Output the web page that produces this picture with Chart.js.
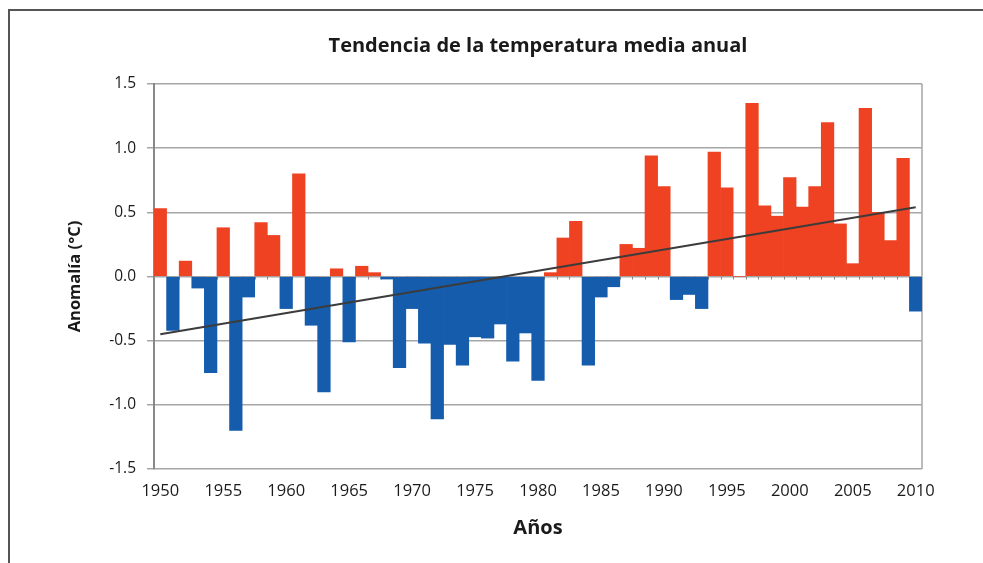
<!DOCTYPE html>
<html lang="es">
<head>
<meta charset="UTF-8">
<title>Tendencia de la temperatura media anual</title>
<style>
    html, body { margin: 0; padding: 0; background: #fff; }
    #wrap { position: relative; width: 983px; height: 563px; overflow: hidden; }
    #frame {
        position: absolute; left: 8px; top: 9px; right: -10px; bottom: -10px;
        border-left: 2px solid #555; border-top: 2px solid #555;
    }
    #chart { position: absolute; left: 0; top: 0; }
</style>
</head>
<body>
<div id="wrap">
    <div id="frame"></div>
    <canvas id="chart" width="983" height="563"></canvas>
</div>
<script src="https://cdn.jsdelivr.net/npm/chart.js"></script>
<script>
    // years 1950..2010
    var years = [];
    for (var y = 1950; y <= 2010; y++) years.push(String(y));

    // annual anomaly (ºC)
    var anomalies = [
        0.53, -0.42, 0.12, -0.09, -0.75, 0.38, -1.20, -0.16, 0.42, 0.32,   // 1950-59
        -0.25, 0.80, -0.38, -0.90, 0.06, -0.51, 0.08, 0.03, -0.02, -0.71,  // 1960-69
        -0.25, -0.52, -1.11, -0.53, -0.69, -0.47, -0.48, -0.37, -0.66, -0.44, // 1970-79
        -0.81, 0.03, 0.30, 0.43, -0.69, -0.16, -0.08, 0.25, 0.22, 0.94,    // 1980-89
        0.70, -0.18, -0.14, -0.25, 0.97, 0.69, 0.00, 1.35, 0.55, 0.47,     // 1990-99
        0.77, 0.54, 0.70, 1.20, 0.41, 0.10, 1.31, 0.50, 0.28, 0.92,        // 2000-09
        -0.27                                                              // 2010
    ];

    // linear trend, value at first and last year
    var trendEnds = [-0.45, 0.54];

    var yTicks = [1.5, 1.0, 0.5, 0.0, -0.5, -1.0, -1.5];

    var RED = '#ee4222';
    var BLUE = '#155cac';
    var FONT = '"Open Sans", "Noto Sans", sans-serif';

    var trendData = years.map(function (d, i) {
        if (i === 0) return trendEnds[0];
        if (i === years.length - 1) return trendEnds[1];
        return null;
    });

    // right border of the plot + little tick marks along the zero line
    var plotExtras = {
        id: 'plotExtras',
        beforeDatasetsDraw: function (chart) {
            var ctx = chart.ctx, a = chart.chartArea;
            var ys = chart.scales.y;
            var y0 = ys.getPixelForValue(0);
            var step = (a.right - a.left) / years.length;
            ctx.save();
            ctx.strokeStyle = '#888';
            ctx.lineWidth = 1;
            for (var i = 1; i < years.length; i++) {
                var x = Math.round(a.left + step * i) + 0.5;
                ctx.beginPath();
                ctx.moveTo(x, y0);
                ctx.lineTo(x, y0 + 3);
                ctx.stroke();
            }
            ctx.strokeStyle = '#a6a6a6';
            ctx.lineWidth = 1.5;
            ctx.beginPath();
            ctx.moveTo(a.right, a.top);
            ctx.lineTo(a.right, a.bottom);
            ctx.stroke();
            ctx.restore();
        }
    };

    new Chart(document.getElementById('chart').getContext('2d'), {
        data: {
            labels: years,
            datasets: [{
                type: 'line',
                data: trendData,
                spanGaps: true,
                borderColor: '#3c3c3c',
                borderWidth: 2,
                pointRadius: 0,
                order: 0
            }, {
                type: 'bar',
                data: anomalies,
                backgroundColor: anomalies.map(function (v) { return v >= 0 ? RED : BLUE; }),
                barPercentage: 1,
                categoryPercentage: 1,
                order: 1
            }]
        },
        options: {
            responsive: false,
            animation: false,
            layout: { padding: { left: 10, right: 61, top: 0, bottom: 0 } },
            plugins: {
                legend: { display: false },
                tooltip: { enabled: false },
                title: {
                    display: true,
                    text: 'Tendencia de la temperatura media anual',
                    fullSize: false,
                    color: '#1a1a1a',
                    font: { family: FONT, size: 20, weight: 'bold', lineHeight: 1.2 },
                    padding: { top: 34, bottom: 26 }
                }
            },
            scales: {
                x: {
                    grid: { display: false, drawTicks: false },
                    border: { display: false },
                    ticks: {
                        autoSkip: false,
                        maxRotation: 0,
                        padding: 12,
                        color: '#1a1a1a',
                        font: { family: FONT, size: 16.5 },
                        callback: function (v, i) {
                            return (1950 + i) % 5 === 0 ? years[i] : '';
                        }
                    },
                    title: {
                        display: true,
                        text: 'Años',
                        color: '#1a1a1a',
                        font: { family: FONT, size: 20, weight: 'bold', lineHeight: 1.2 },
                        padding: { top: 0, bottom: 23 }
                    },
                    afterFit: function (s) { s.height = 94; }
                },
                y: {
                    min: -1.5,
                    max: 1.5,
                    afterBuildTicks: function (s) {
                        s.ticks = yTicks.map(function (v) { return { value: v }; });
                    },
                    grid: { color: '#a6a6a6', lineWidth: 1.5, tickLength: 7 },
                    border: { color: '#888', width: 2 },
                    ticks: {
                        padding: 11,
                        color: '#1a1a1a',
                        font: { family: FONT, size: 15.5 },
                        callback: function (v) { return v.toFixed(1); }
                    },
                    title: {
                        display: true,
                        text: 'Anomalía (°C)',
                        color: '#1a1a1a',
                        font: { family: FONT, size: 16.5, weight: 'bold', lineHeight: 1.2 },
                        padding: { top: 55, bottom: 0 }
                    },
                    afterFit: function (s) { s.width = 144; }
                }
            }
        },
        plugins: [plotExtras]
    });
</script>
</body>
</html>
